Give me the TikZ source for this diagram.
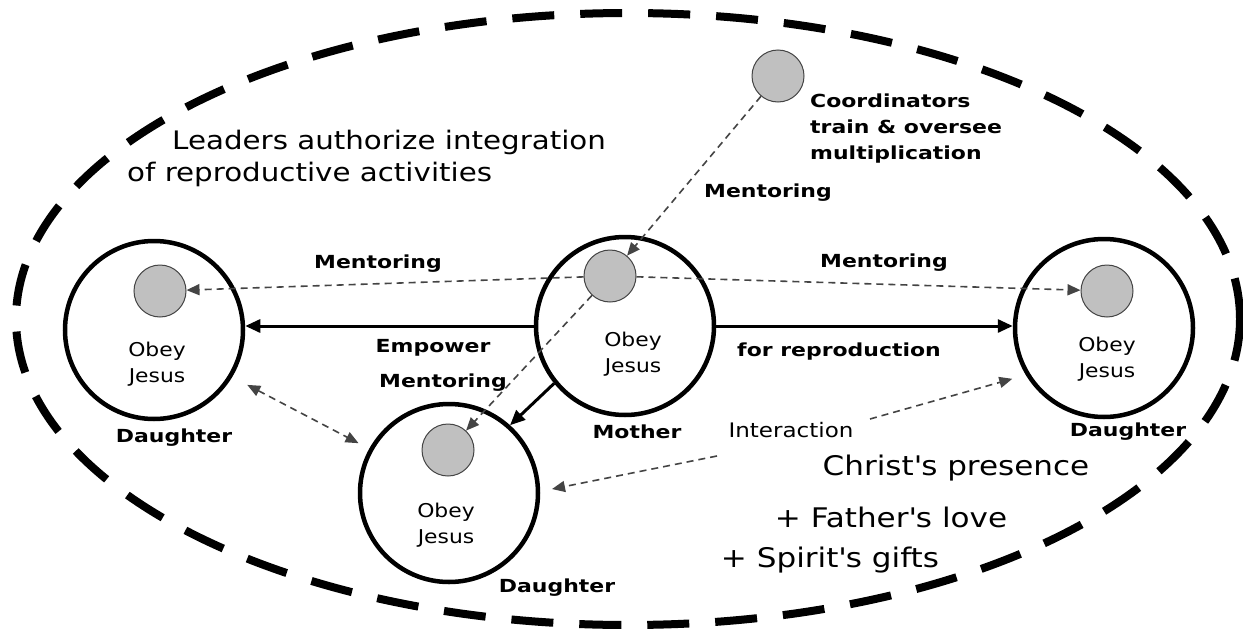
\documentclass[tikz,border=0pt]{standalone}
\usepackage{fontspec}
\setmainfont{DejaVu Sans}[FakeStretch=1.15]
\newfontfamily\blfont{DejaVu Sans}[FakeStretch=1.22]
\usetikzlibrary{arrows.meta}
\definecolor{dotgray}{HTML}{C0C0C0}
\definecolor{dashgray}{HTML}{444444}
\tikzset{
  bigcirc/.style={circle, draw=black, line width=4.5pt, minimum size=178pt, inner sep=0pt, fill=white},
  dot/.style={circle, draw=dashgray, line width=1pt, fill=dotgray, minimum size=52pt, inner sep=0pt},
  lbl/.style={font=\blfont\bfseries\fontsize{18}{26}\selectfont, inner sep=0pt},
  reg/.style={font=\fontsize{19}{26}\selectfont, inner sep=0pt, align=center},
  big/.style={font=\fontsize{27}{33}\selectfont, inner sep=0pt},
  solidarr/.style={line width=3pt, -{Triangle[length=15pt,width=13pt]}},
  thindash/.style={line width=1.6pt, dashgray, dash pattern=on 7pt off 5pt, -{Triangle[length=13pt,width=11pt]}},
}
\begin{document}
\begin{tikzpicture}[x=1pt,y=-1pt]
\useasboundingbox (0,0) rectangle (1243,632);
\fill[white] (0,0) rectangle (1243,632);
% outer ellipse
\draw[line width=8pt, dash pattern=on 42pt off 26pt] (628,319) ellipse [x radius=612, y radius=306];

% texts
\node[big, font=\fontsize{25.5}{33}\selectfont, anchor=west] (lead1) at (172,142) {Leaders authorize integration};
\node[big, font=\fontsize{25.5}{33}\selectfont, anchor=west] (lead2) at (127,174) {of reproductive activities};
\node[big] (chr) at (956,468) {Christ\textquotesingle s presence};
\node[big] (fat) at (891,517) {+ Father\textquotesingle s love};
\node[big] (spi) at (830,560) {+ Spirit\textquotesingle s gifts};

% circles
\node[bigcirc] (ld) at (154,330) {};
\node[bigcirc] (md) at (625,326) {};
\node[bigcirc] (rd) at (1104,328) {};
\node[bigcirc] (bd) at (449,493) {};

\node[reg] (ldt) at (157,364) {Obey\\Jesus};
\node[reg] (mdt) at (633,354) {Obey\\Jesus};
\node[reg] (rdt) at (1107,359) {Obey\\Jesus};
\node[reg] (bdt) at (446,525) {Obey\\Jesus};

% dots
\node[dot] (lg) at (160,291) {};
\node[dot] (mg) at (610,276) {};
\node[dot] (rg) at (1107,291) {};
\node[dot] (bg) at (448,450) {};
\node[dot] (cg) at (778,76) {};

% labels
\node[lbl] (ldl) at (174,438) {Daughter};
\node[lbl] (rdl) at (1128,432) {Daughter};
\node[lbl] (bdl) at (557,588) {Daughter};
\node[lbl] (mdl) at (637,432) {Mother};
\node[lbl] (men1) at (378,264) {Mentoring};
\node[lbl] (men2) at (884,263) {Mentoring};
\node[lbl] (men3) at (768,193) {Mentoring};
\node[lbl] (men4) at (443,383) {Mentoring};
\node[lbl] (emp) at (433,348) {Empower};
\node[lbl] (forr) at (839,352) {for reproduction};
\node[lbl, anchor=north west, align=left] (coord) at (810,94) {Coordinators\\train \& oversee\\multiplication};
\node[reg, font=\fontsize{20}{26}\selectfont] (int) at (791,430) {Interaction};

% solid arrows
\draw[solidarr] (md.west) -- (md.west -| ld.east);
\draw[solidarr] (md.east) -- (md.east -| rd.west);
\draw[solidarr] (md.219) -- (bd.48);

% dashed arrows
\draw[thindash] (cg) -- (mg);
\draw[thindash] (mg) -- (lg);
\draw[thindash] (mg) -- (rg);
\draw[thindash] (mg) -- (bg);
\draw[thindash, {Triangle[length=13pt,width=11pt]}-{Triangle[length=13pt,width=11pt]}, shorten <=17pt, shorten >=12pt] (ld.-31) -- (bd.151);
\coordinate (i1) at (870,419);
\coordinate (i2) at (717,456);
\draw[thindash, shorten >=14pt] (i1) -- (rd.211.6);
\draw[thindash, shorten >=12pt] (i2) -- (bd.1);
\end{tikzpicture}
\end{document}
